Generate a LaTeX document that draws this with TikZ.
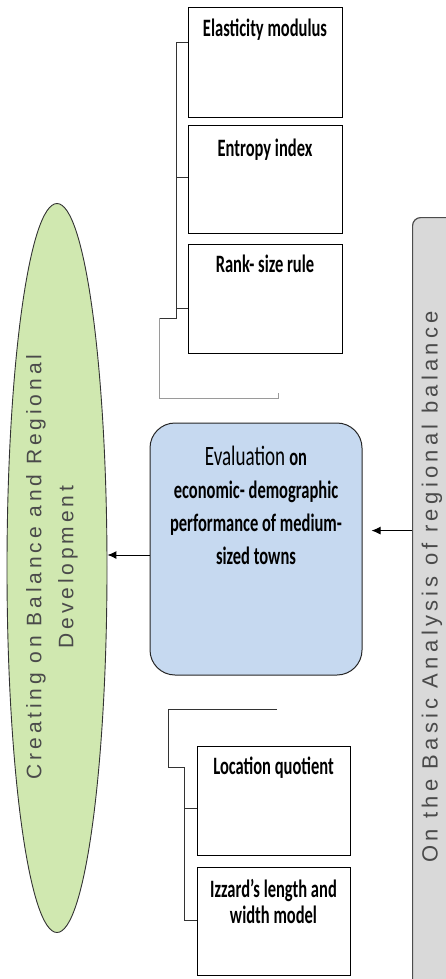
\documentclass[tikz,border=0pt]{standalone}
\usepackage{fontspec}
\setmainfont{Carlito}
\newfontfamily\boxfont[FakeStretch=0.66]{Carlito}
\newfontfamily\boxfontR[FakeStretch=0.68]{Carlito}
\newfontfamily\spacedA[LetterSpace=18.5]{Liberation Sans}
\newfontfamily\spacedB[LetterSpace=19.5]{Liberation Sans}
\usetikzlibrary{shapes.geometric,arrows.meta,calc}
\definecolor{bluefill}{HTML}{C6D9F0}
\definecolor{greenfill}{HTML}{D0E8B0}
\definecolor{grayfill}{HTML}{D9D9D9}
\definecolor{txtgray}{HTML}{4A4A4A}
\definecolor{linkgray}{HTML}{333333}
\definecolor{tailgray}{HTML}{9A9A9A}
\newcommand\boxtxt[4]{\parbox[c][#1][t]{#2}{\centering\vspace*{#3}#4\par}}
\begin{document}
\begin{tikzpicture}[x=1pt,y=-1pt,
  mbox/.style={draw=black, line width=0.9pt, inner sep=0pt, fill=white,
    font=\boxfont\bfseries\fontsize{25}{26}\selectfont},
  bluebox/.style={draw=black!85, line width=1pt, fill=bluefill, rounded corners=25pt,
    inner sep=0pt, font=\boxfont\bfseries\fontsize{25}{33}\selectfont},
  link/.style={draw=linkgray, line width=0.8pt},
  taillink/.style={draw=tailgray, line width=0.8pt},
  arr/.style={-{Latex[length=9pt,width=8pt]}, line width=1pt, draw=black}]
\useasboundingbox (0,0) rectangle (446,979);
\clip (0,0) rectangle (446,979);

% gray box on the right
\node[draw=black!70, line width=1.2pt, fill=grayfill, rounded corners=8pt,
  minimum width=58pt, minimum height=800pt, inner sep=0pt, anchor=north west] (gb) at (412,217) {};
\node[rotate=90, text=txtgray, font=\spacedB\fontsize{22}{24}\selectfont] (gbt) at (432,587)
  {On the Basic Analysis of regional balance};

% ellipse on the left
\node[ellipse, draw=black!80, line width=0.9pt, fill=greenfill, minimum width=100pt,
  minimum height=729pt, inner sep=0pt] (el) at (57,568) {};
\node[rotate=90, text=txtgray, align=center, font=\spacedA\fontsize{21}{32}\selectfont] (elt) at (52,567)
  {Creating on Balance and Regional\\Development};

% top boxes
\node[mbox] (em) at (265,62) {\boxtxt{110pt}{154pt}{12pt}{Elasticity modulus}};
\node[mbox] (ei) at (265,179) {\boxtxt{108pt}{154pt}{14pt}{Entropy index}};
\node[mbox] (rs) at (265,298.5) {\boxtxt{109pt}{154pt}{11pt}{Rank- size rule}};

% bottom boxes
\node[mbox] (lq) at (273.5,800.5) {\boxtxt{109pt}{153pt}{11pt}{Location quotient}};
\node[mbox] (iz) at (273.5,921) {\boxtxt{108pt}{153pt}{12pt}{Izzard’s length and\\width model}};

% central blue box
\node[bluebox] (eb) at (256,549) {\boxtxt{252pt}{212pt}{23pt}{{\boxfontR\mdseries\fontsize{28}{33}\selectfont Evaluation}\,on\\economic- demographic\\performance of medium-\\sized towns}};

% arrows
\draw[arr] ([yshift=87pt]gb.west) -- ([yshift=87pt]gb.west -| eb.east) [shorten >=9pt];
\draw[arr] ([yshift=-6pt]eb.west) -- ([yshift=-6pt]eb.west -| el.east);

% top bracket
\coordinate (sp) at (176,318);
\coordinate (t1) at (159,318);
\coordinate (t2) at (159,398);
\coordinate (t3) at (278,398);
\coordinate (t4) at (278,393);
\path ($(em.north west)!0.327!(em.south west)$) coordinate (e1);
\path ($(ei.north west)!0.481!(ei.south west)$) coordinate (e2);
\path ($(rs.north west)!0.587!(rs.south west)$) coordinate (e3);
\draw[link] (e1) -- (e1 -| sp) -- (sp) -- (t1);
\draw[link] (e2) -- (e2 -| sp);
\draw[link] (e3) -- (e3 -| sp);
\draw[taillink] (t1) -- (t2) -- (t3) -- (t4);

% bottom bracket
\coordinate (b0) at (277,709);
\coordinate (b1) at (168,709);
\coordinate (b2) at (168,767);
\coordinate (b3) at (184,767);
\path ($(lq.north west)!0.569!(lq.south west)$) coordinate (l1);
\path ($(iz.north west)!0.491!(iz.south west)$) coordinate (l2);
\draw[link] (b0) -- (b1) -- (b2) -- (b3) -- (b3 |- l2) -- (l2);
\draw[link] (l1 -| b3) -- (l1);
\end{tikzpicture}
\end{document}
